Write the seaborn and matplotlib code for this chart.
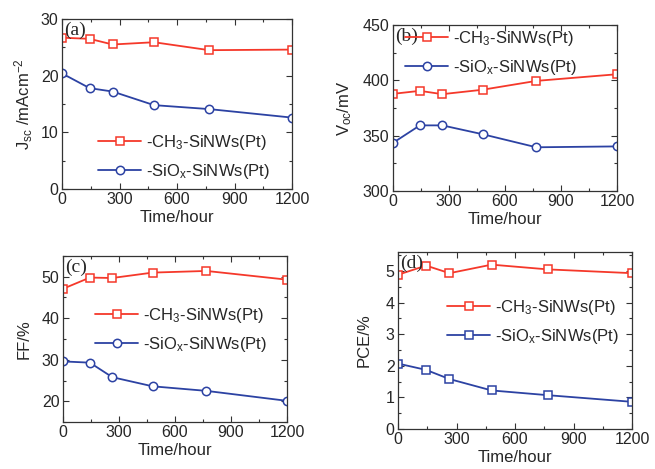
import numpy as np
import pandas as pd
import seaborn as sns
import matplotlib.pyplot as plt
from matplotlib.ticker import MultipleLocator

sns.set_style('ticks')
plt.rcParams['font.family'] = ['Liberation Sans', 'DejaVu Sans']
plt.rcParams['mathtext.default'] = 'regular'
plt.rcParams['xtick.direction'] = 'in'
plt.rcParams['ytick.direction'] = 'in'

# data
time_h = [0, 144, 264, 480, 768, 1200]
series = ['-CH$_3$-SiNWs(Pt)', '-SiO$_x$-SiNWs(Pt)']

jsc_ch3 = [26.7, 26.5, 25.5, 25.9, 24.5, 24.6]
jsc_siox = [20.4, 17.8, 17.2, 14.8, 14.1, 12.6]
voc_ch3 = [387.8, 390.5, 387.5, 391.5, 399.5, 405.5]
voc_siox = [343.5, 359.3, 359.3, 351.3, 339.5, 340.3]
ff_ch3 = [47.1, 49.8, 49.7, 51.0, 51.4, 49.3]
ff_siox = [29.6, 29.3, 25.8, 23.6, 22.5, 20.1]
pce_ch3 = [4.88, 5.17, 4.93, 5.20, 5.05, 4.93]
pce_siox = [2.07, 1.87, 1.58, 1.22, 1.07, 0.86]

red = '#f5382a'
blue = '#2c42a3'

W, H = 655, 469
fig = plt.figure(figsize=(W / 100, H / 100), dpi=100)


def px_axes(x0, x1, y0, y1):
    return fig.add_axes([x0 / W, (H - y1) / H, (x1 - x0) / W, (y1 - y0) / H])


panels = [
    # axes box (px), ylabel, ylim, major, minor, y values, markers, panel tag, legend anchor, ylabel pad
    ((62, 292, 19, 189), 'J$_{sc}$ /mAcm$^{-2}$', (0, 30), 10, 5, jsc_ch3, jsc_siox, ('s', 'o'), '(a)', (0.157, 0.33), 4),
    ((393, 617, 25, 191), 'V$_{oc}$/mV', (300, 450), 50, 25, voc_ch3, voc_siox, ('s', 'o'), '(b)', (0.054, 0.975), 6),
    ((63, 287, 256, 422), 'FF/%', (15, 55), 10, 5, ff_ch3, ff_siox, ('s', 'o'), '(c)', (0.143, 0.70), 7),
    ((398, 632, 252, 429), 'PCE/%', (0, 5.6), 1, 0.5, pce_ch3, pce_siox, ('s', 's'), '(d)', (0.209, 0.74), 10),
]

for box, ylab, ylim, maj, mnr, y1, y2, mk, tag, anchor, ypad in panels:
    ax = px_axes(*box)
    for vals, col, m, lab in zip((y1, y2), (red, blue), mk, series):
        df = pd.DataFrame({'t': time_h, 'v': vals})
        sns.lineplot(data=df, x='t', y='v', ax=ax, color=col, marker=m,
                     markersize=6, markerfacecolor='white', markeredgecolor=col,
                     markeredgewidth=1.1, linewidth=1.3, label=lab)
    ax.set_xlim(0, 1200)
    ax.set_ylim(*ylim)
    ax.xaxis.set_major_locator(MultipleLocator(300))
    ax.xaxis.set_minor_locator(MultipleLocator(150))
    ax.yaxis.set_major_locator(MultipleLocator(maj))
    ax.yaxis.set_minor_locator(MultipleLocator(mnr))
    ax.tick_params(which='both', top=True, right=True, labelsize=11.5,
                   color='#333333', width=0.8, pad=2.5)
    ax.tick_params(which='major', length=4)
    ax.tick_params(which='minor', length=2)
    for s in ax.spines.values():
        s.set_color('#333333')
        s.set_linewidth(0.9)
    ax.set_xlabel('Time/hour', fontsize=12, labelpad=1.5)
    ax.set_ylabel(ylab, fontsize=12, labelpad=ypad)
    ax.text(0.01, 0.985, tag, transform=ax.transAxes, ha='left', va='top',
            fontsize=14, family=['Liberation Serif', 'DejaVu Serif'])
    ax.legend(loc='upper left', bbox_to_anchor=anchor, frameon=False,
              fontsize=12, handlelength=2.6, handletextpad=0.3,
              borderpad=0, borderaxespad=0, labelspacing=0.6)

fig.savefig('out.png', dpi=100)
